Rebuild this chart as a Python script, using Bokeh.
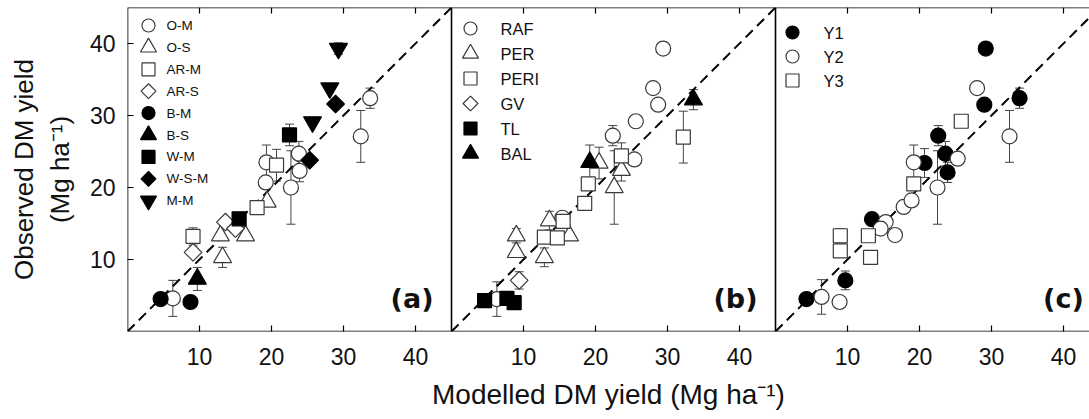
import numpy as np
from bokeh.plotting import figure
from bokeh.models import (LinearAxis, Whisker, ColumnDataSource, Label,
                          Span, TeeHead, FixedTicker, Range1d)
from bokeh.core.properties import value
from bokeh.embed import file_html
from bokeh.resources import INLINE

TICKS = [10, 20, 30, 40]
X_LABEL = "Modelled DM yield (Mg ha\u207b\u00b9)"
Y_LABEL = "Observed DM yield\n(Mg ha\u207b\u00b9)"
PANEL_TAGS = ["(a)", "(b)", "(c)"]

# ---------------- panel (a): treatments ----------------
A_NAMES = ["O-M", "O-S", "AR-M", "AR-S", "B-M", "B-S", "W-M", "W-S-M", "M-M"]
OM_X = [33.7, 32.4, 19.3, 23.8, 23.9, 22.7, 19.2, 6.3]
OM_Y = [32.4, 27.1, 23.5, 24.7, 22.3, 20.0, 20.7, 4.6]
OM_E = [1.4, 3.6, 2.4, 1.7, 1.5, 5.1, 0.0, 2.5]
OS_X = [19.4, 12.9, 16.4, 13.2]
OS_Y = [18.0, 13.3, 13.3, 10.3]
OS_E = [0.0, 0.0, 0.0, 1.4]
ARM_X = [20.7, 18.0, 9.1]
ARM_Y = [23.1, 17.2, 13.2]
ARM_E = [2.2, 0.0, 1.2]
ARS_X = [13.6, 15.0, 9.1]
ARS_Y = [15.2, 14.3, 11.0]
ARS_E = [0.0, 0.0, 0.0]
BM_X = [4.6, 8.75]
BM_Y = [4.5, 4.1]
BM_E = [0.0, 0.0]
BS_X = [9.7]
BS_Y = [7.3]
BS_E = [1.6]
WM_X = [22.5, 15.5]
WM_Y = [27.3, 15.65]
WM_E = [1.5, 0.0]
WSM_X = [28.9, 25.3]
WSM_Y = [31.6, 23.8]
WSM_E = [0.0, 0.0]
MM_X = [29.3, 28.1, 25.7]
MM_Y = [39.3, 33.8, 29.1]
MM_E = [0.8, 0.0, 0.0]

# ---------------- panel (b): sites ----------------
B_NAMES = ["RAF", "PER", "PERI", "GV", "TL", "BAL"]
RAF_X = [29.4, 28.0, 28.7, 25.6, 22.4, 25.4, 15.4, 6.3]
RAF_Y = [39.3, 33.8, 31.5, 29.2, 27.2, 23.9, 15.8, 4.5]
RAF_E = [0.0, 0.0, 0.0, 0.0, 1.4, 0.0, 0.0, 2.4]
PER_X = [20.5, 23.6, 22.6, 13.6, 9.0, 9.0, 12.9, 16.4]
PER_Y = [23.4, 22.4, 20.0, 15.4, 13.3, 11.0, 10.3, 13.3]
PER_E = [2.2, 1.5, 5.1, 1.3, 1.0, 0.0, 1.3, 0.0]
PERI_X = [32.2, 23.6, 19.0, 18.5, 15.5, 12.9, 14.7]
PERI_Y = [27.0, 24.4, 20.5, 17.8, 15.3, 13.1, 13.0]
PERI_E = [3.6, 1.8, 0.0, 0.0, 0.0, 0.8, 0.0]
GV_X = [9.4]
GV_Y = [7.1]
GV_E = [1.2]
TL_X = [4.6, 7.7, 8.7]
TL_Y = [4.3, 4.6, 4.0]
TL_E = [0.0, 0.0, 0.0]
BAL_X = [19.2, 33.6]
BAL_Y = [23.5, 32.2]
BAL_E = [2.4, 1.4]

# ---------------- panel (c): years ----------------
C_NAMES = ["Y1", "Y2", "Y3"]
Y1_X = [29.2, 29.0, 33.9, 22.6, 23.6, 23.9, 20.7, 13.4, 9.7, 4.3]
Y1_Y = [39.3, 31.5, 32.4, 27.2, 24.7, 22.1, 23.4, 15.6, 7.1, 4.5]
Y1_E = [0.0, 0.0, 1.4, 1.4, 1.7, 1.4, 2.0, 0.0, 1.3, 0.0]
Y2_X = [28.0, 32.5, 19.2, 25.3, 22.5, 17.8, 18.9, 15.3, 14.6, 16.6, 6.4, 8.9]
Y2_Y = [33.8, 27.1, 23.5, 24.0, 20.0, 17.3, 18.2, 15.2, 14.3, 13.4, 4.8, 4.1]
Y2_E = [0.0, 3.6, 2.4, 0.0, 5.1, 0.0, 0.0, 0.0, 0.0, 0.0, 2.4, 0.0]
Y3_X = [25.8, 19.2, 9.0, 9.0, 12.9, 13.2]
Y3_Y = [29.2, 20.5, 13.3, 11.2, 13.3, 10.3]
Y3_E = [0.0, 0.0, 1.0, 0.0, 0.8, 0.0]

# ---------------- layout / style constants ----------------
FONT = "Liberation Sans"
OPEN_LINE = "#3a3a3a"
ERR_COLOR = "#444444"
W, H = 1089, 419
LEFT, TOP, BOTTOM = 127, 7, 88
FRAME = 324                     # px per 45 units (square panels)
PANEL = 45.0                    # axis span of one panel
PXU = FRAME / PANEL             # px per unit
X_END = (W - LEFT) / PXU        # third panel is cut by the page edge
OFFSETS = [0.0, PANEL, 2 * PANEL]
TICK_LEN = 6 / PXU

# marker style per symbol kind: (bokeh marker, size, angle)
STYLE = {
    "circle": ("circle", 15, 0.0),
    "triangle": ("triangle", 18, 0.0),
    "square": ("square", 14, 0.0),
    "diamond": ("square", 12.5, np.pi / 4),
    "inverted": ("inverted_triangle", 18, 0.0),
}
LEG_STYLE = {
    "circle": ("circle", 13, 0.0),
    "triangle": ("triangle", 16, 0.0),
    "square": ("square", 13, 0.0),
    "diamond": ("square", 10.5, np.pi / 4),
    "inverted": ("inverted_triangle", 16, 0.0),
}

p = figure(width=W, height=H,
           x_range=Range1d(0, X_END), y_range=Range1d(0, PANEL),
           output_backend="svg", toolbar_location=None,
           x_axis_location=None, y_axis_location=None,
           min_border_left=LEFT, min_border_right=0,
           min_border_top=TOP, min_border_bottom=BOTTOM,
           background_fill_color="white", border_fill_color="white")
p.grid.visible = False
p.outline_line_color = None

# panel frames
for loc in [0.0, PANEL, 2 * PANEL]:
    p.add_layout(Span(location=loc, dimension="height",
                      line_color="black", line_width=1.6))
for loc in [0.0, PANEL]:
    p.add_layout(Span(location=loc, dimension="width",
                      line_color="black", line_width=1.6))

# axes
all_ticks = [off + t for off in OFFSETS for t in TICKS]
xb = LinearAxis(ticker=FixedTicker(ticks=all_ticks),
                major_label_overrides={off + t: str(t) for off in OFFSETS for t in TICKS},
                major_tick_in=6, major_tick_out=0,
                minor_tick_line_color=None, axis_line_color=None,
                major_tick_line_color="black", major_tick_line_width=1.2,
                major_label_standoff=16,
                major_label_text_font=FONT, major_label_text_font_size="23px",
                major_label_text_color="#111111",
                axis_label=X_LABEL, axis_label_text_font=FONT,
                axis_label_text_font_size="28px",
                axis_label_text_font_style="normal",
                axis_label_text_color="#111111", axis_label_standoff=11)
p.add_layout(xb, "below")

yl = LinearAxis(ticker=FixedTicker(ticks=TICKS),
                major_tick_in=6, major_tick_out=0,
                minor_tick_line_color=None, axis_line_color=None,
                major_tick_line_color="black", major_tick_line_width=1.2,
                major_label_standoff=12,
                major_label_text_font=FONT, major_label_text_font_size="23px",
                major_label_text_color="#111111",
                axis_label=Y_LABEL, axis_label_text_font=FONT,
                axis_label_text_font_size="26px",
                axis_label_text_font_style="normal",
                axis_label_text_color="#111111", axis_label_standoff=12)
p.add_layout(yl, "left")

# inward tick marks on the top edge
p.segment(x0=all_ticks, y0=[PANEL] * len(all_ticks), x1=all_ticks,
          y1=[PANEL - TICK_LEN] * len(all_ticks),
          line_color="black", line_width=1.2)

# 1:1 lines and panel tags
for k, off in enumerate(OFFSETS):
    end = min(PANEL, X_END - off)
    p.line(x=[off, off + end], y=[0, end], line_color="black",
           line_width=2, line_dash="10 6")
    p.add_layout(Label(x=off + end - (2.5 if k < 2 else 0.8),
                       y=4.6, text=PANEL_TAGS[k], text_align="right",
                       text_baseline="middle", text_font="DejaVu Sans",
                       text_font_style="bold", text_font_size="27px",
                       text_color="#111111"))


def add_series(off, kind, filled, xs, ys, es):
    marker, size, angle = STYLE[kind]
    fill = "black" if filled else "white"
    line = "black" if filled else OPEN_LINE
    bx = [off + x for x in xs]
    idx = [i for i, e in enumerate(es) if e > 0]
    if idx:
        src = ColumnDataSource(dict(
            base=[bx[i] for i in idx],
            upper=[ys[i] + es[i] for i in idx],
            lower=[ys[i] - es[i] for i in idx]))
        p.add_layout(Whisker(
            source=src, base="base", upper="upper", lower="lower",
            dimension="height", line_color=ERR_COLOR, line_width=1,
            upper_head=TeeHead(size=9, line_color=ERR_COLOR, line_width=1),
            lower_head=TeeHead(size=9, line_color=ERR_COLOR, line_width=1)))
    p.scatter(bx, ys, marker=marker, size=size, angle=angle,
              fill_color=fill, line_color=line, line_width=1.2)


def add_legend(off, names, kinds, fills, key_dx, row0, pitch, text_dx, fsize):
    for i, (name, kind, filled) in enumerate(zip(names, kinds, fills)):
        marker, size, angle = LEG_STYLE[kind]
        yy = PANEL - (row0 + pitch * i) / PXU
        p.scatter([off + key_dx / PXU], [yy], marker=marker, size=size,
                  angle=angle, fill_color="black" if filled else "white",
                  line_color="black" if filled else OPEN_LINE, line_width=1.2)
    p.text(x=[off + text_dx / PXU] * len(names),
           y=[PANEL - (row0 + pitch * i) / PXU for i in range(len(names))],
           text=names, text_font=value(FONT), text_font_size=value(fsize),
           text_color="#111111", text_baseline="middle", text_align="left")


# panel (a)
A_KINDS = ["circle", "triangle", "square", "diamond", "circle", "triangle",
           "square", "diamond", "inverted"]
A_FILLS = [False, False, False, False, True, True, True, True, True]
for kind, filled, xs, ys, es in zip(
        A_KINDS, A_FILLS,
        [OM_X, OS_X, ARM_X, ARS_X, BM_X, BS_X, WM_X, WSM_X, MM_X],
        [OM_Y, OS_Y, ARM_Y, ARS_Y, BM_Y, BS_Y, WM_Y, WSM_Y, MM_Y],
        [OM_E, OS_E, ARM_E, ARS_E, BM_E, BS_E, WM_E, WSM_E, MM_E]):
    add_series(OFFSETS[0], kind, filled, xs, ys, es)
add_legend(OFFSETS[0], A_NAMES, A_KINDS, A_FILLS, 21, 18, 21.9, 39, "13.5px")

# panel (b)
B_KINDS = ["circle", "triangle", "square", "diamond", "square", "triangle"]
B_FILLS = [False, False, False, False, True, True]
for kind, filled, xs, ys, es in zip(
        B_KINDS, B_FILLS,
        [RAF_X, PER_X, PERI_X, GV_X, TL_X, BAL_X],
        [RAF_Y, PER_Y, PERI_Y, GV_Y, TL_Y, BAL_Y],
        [RAF_E, PER_E, PERI_E, GV_E, TL_E, BAL_E]):
    add_series(OFFSETS[1], kind, filled, xs, ys, es)
add_legend(OFFSETS[1], B_NAMES, B_KINDS, B_FILLS, 19, 21, 25, 49, "16.5px")

# panel (c)
C_KINDS = ["circle", "circle", "square"]
C_FILLS = [True, False, False]
for kind, filled, xs, ys, es in zip(
        C_KINDS, C_FILLS,
        [Y1_X, Y2_X, Y3_X], [Y1_Y, Y2_Y, Y3_Y], [Y1_E, Y2_E, Y3_E]):
    add_series(OFFSETS[2], kind, filled, xs, ys, es)
add_legend(OFFSETS[2], C_NAMES, C_KINDS, C_FILLS, 17, 25, 24, 48, "16.5px")

open("out.html", "w").write(file_html(p, INLINE))
